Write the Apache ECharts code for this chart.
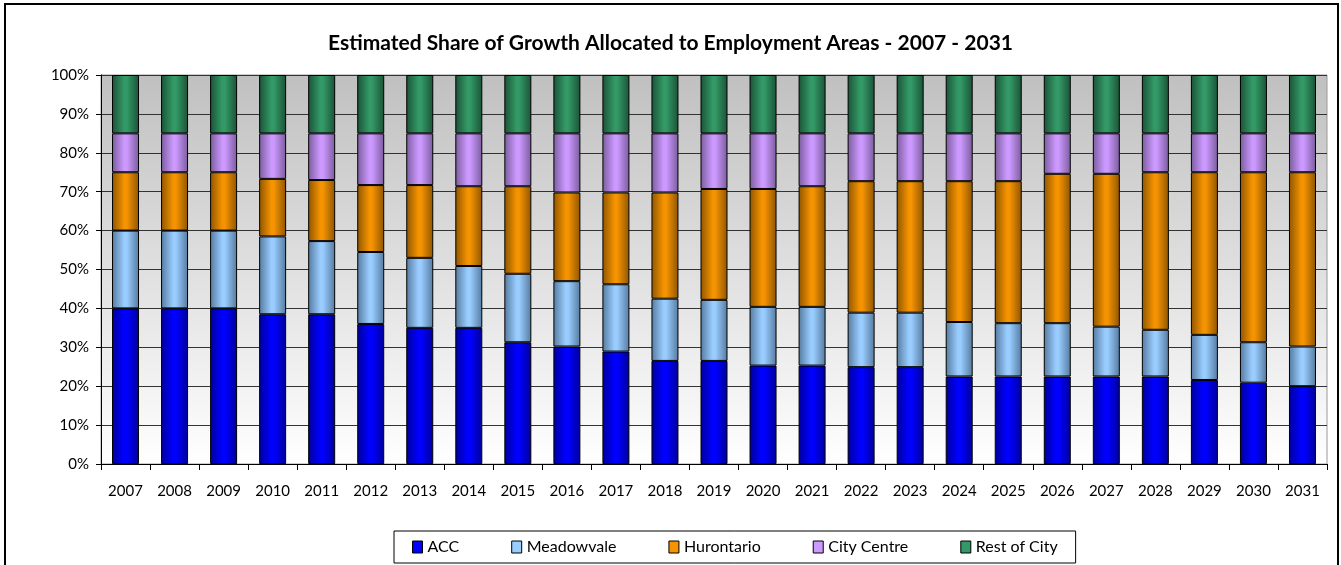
<!DOCTYPE html>
<html>
<head>
<meta charset="utf-8">
<script src="https://cdn.jsdelivr.net/npm/echarts@6/dist/echarts.min.js"></script>
<style>
  html, body { margin: 0; padding: 0; background: #fff; }
  #chart { width: 1341px; height: 565px; }
</style>
</head>
<body>
<div id="chart"></div>
<script>
const years = ['2007', '2008', '2009', '2010', '2011', '2012', '2013', '2014', '2015', '2016', '2017', '2018', '2019',
  '2020', '2021', '2022', '2023', '2024', '2025', '2026', '2027', '2028', '2029', '2030', '2031']

// shares in percent
const acc = [40, 40, 40, 38.5, 38.5, 36, 35, 35, 31.3, 30.2, 28.9, 26.5, 26.5,
  25.3, 25.3, 24.9, 24.9, 22.5, 22.5, 22.5, 22.5, 22.5, 21.6, 20.9, 20]
const meadowvale = [20, 20, 20, 20, 18.8, 18.5, 18, 15.9, 17.6, 16.8, 17.3, 16, 15.7,
  15.1, 15.1, 14, 14, 14, 13.7, 13.7, 12.8, 12, 11.6, 10.4, 10.2]
const hurontario = [15, 15, 15, 14.8, 15.7, 17.2, 18.7, 20.5, 22.5, 22.8, 23.6, 27.3, 28.5,
  30.3, 31, 33.8, 33.8, 36.2, 36.5, 38.4, 39.3, 40.5, 41.8, 43.7, 44.8]
const cityCentre = [10, 10, 10, 11.7, 12, 13.3, 13.3, 13.6, 13.6, 15.2, 15.2, 15.2, 14.3,
  14.3, 13.6, 12.3, 12.3, 12.3, 12.3, 10.4, 10.4, 10, 10, 10, 10]
const restOfCity = [15, 15, 15, 15, 15, 15, 15, 15, 15, 15, 15, 15, 15,
  15, 15, 15, 15, 15, 15, 15, 15, 15, 15, 15, 15]

const yTicks = ['0%', '10%', '20%', '30%', '40%', '50%', '60%', '70%', '80%', '90%', '100%']

const FONT = 'Lato'

function shade(base, dark) {
  return {
    type: 'linear', x: 0, y: 0, x2: 1, y2: 0,
    colorStops: [
      { offset: 0, color: dark },
      { offset: 0.45, color: base },
      { offset: 0.55, color: base },
      { offset: 1, color: dark }
    ]
  }
}

const seriesDefs = [
  { name: 'ACC', data: acc, base: '#0000ff', dark: '#00009a' },
  { name: 'Meadowvale', data: meadowvale, base: '#99ccff', dark: '#557a9e' },
  { name: 'Hurontario', data: hurontario, base: '#f59300', dark: '#8e5500' },
  { name: 'City Centre', data: cityCentre, base: '#cc99ff', dark: '#7a5c9c' },
  { name: 'Rest of City', data: restOfCity, base: '#339966', dark: '#1b5237' }
]

const chart = echarts.init(document.getElementById('chart'), null, { renderer: 'canvas' })

chart.setOption({
  animation: false,
  textStyle: { fontFamily: FONT, color: '#000' },
  title: {
    text: 'Estimated Share of Growth Allocated to Employment Areas - 2007 - 2031',
    left: 'center',
    top: 28,
    textStyle: { fontFamily: FONT, fontWeight: 'bold', fontSize: 21, color: '#000' }
  },
  graphic: [{
    type: 'rect',
    shape: { x: 5, y: 4, width: 1333, height: 570 },
    style: { fill: 'none', stroke: '#000', lineWidth: 2 },
    silent: true
  }],
  legend: {
    bottom: 2,
    left: 394,
    icon: 'rect',
    itemWidth: 10,
    itemHeight: 12,
    itemGap: 52,
    padding: [8, 18, 8, 18],
    borderColor: '#000',
    borderWidth: 1,
    textStyle: { fontFamily: FONT, fontSize: 16, color: '#000' },
    data: seriesDefs.map(s => ({
      name: s.name,
      itemStyle: { color: s.base, borderColor: '#000', borderWidth: 1 }
    }))
  },
  grid: {
    left: 101,
    right: 14,
    top: 75,
    bottom: 101,
    show: true,
    borderColor: '#999',
    borderWidth: 1,
    backgroundColor: {
      type: 'linear', x: 0, y: 0, x2: 0, y2: 1,
      colorStops: [
        { offset: 0, color: '#c0c0c0' },
        { offset: 1, color: '#ffffff' }
      ]
    }
  },
  xAxis: {
    type: 'category',
    data: years,
    axisLine: { lineStyle: { color: '#000', width: 1 } },
    axisTick: { show: true, length: 6, lineStyle: { color: '#000' } },
    axisLabel: { fontFamily: FONT, fontSize: 15, color: '#000', margin: 20, interval: 0 }
  },
  yAxis: {
    type: 'value',
    min: 0,
    max: 100,
    interval: 10,
    axisLine: { show: true, lineStyle: { color: '#000', width: 1 } },
    axisTick: { show: true, length: 5, lineStyle: { color: '#000' } },
    axisLabel: {
      fontFamily: FONT, fontSize: 15, color: '#000', margin: 12,
      formatter: v => yTicks[Math.round(v / 10)]
    },
    splitLine: { show: true, lineStyle: { color: '#333', width: 1 } }
  },
  series: seriesDefs.map(s => ({
    name: s.name,
    type: 'bar',
    stack: 'share',
    barWidth: 27,
    data: s.data,
    itemStyle: {
      color: shade(s.base, s.dark),
      borderColor: '#000',
      borderWidth: 1
    }
  }))
})
</script>
</body>
</html>
